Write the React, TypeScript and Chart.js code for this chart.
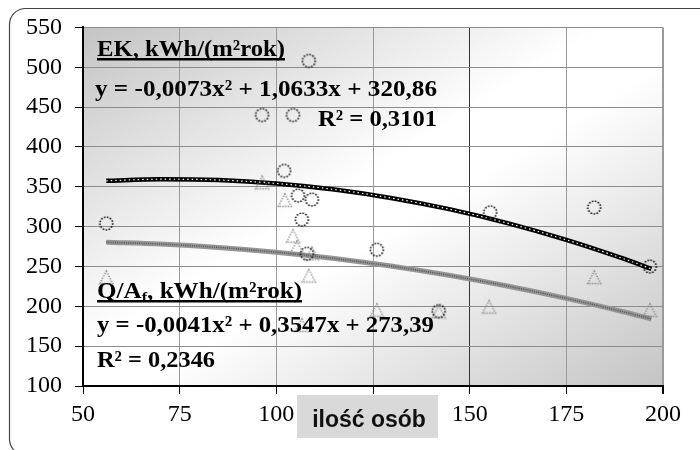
import React, { useEffect, useRef } from 'react';
import { Chart, registerables } from 'chart.js';
Chart.register(...registerables);

// ---- data ----
const ekX = [56, 96.3, 102, 104.3, 105.6, 106.6, 107.9, 108.4, 109.2, 126, 142, 155.3, 182.2, 196.6];
const ekY = [304, 440, 370, 440, 339, 309, 266, 508, 334, 271, 194, 318, 324, 250];
const qX = [56, 96.3, 102.2, 104.3, 105.3, 106.6, 108.4, 109.2, 126, 142, 155, 182.2, 196.6];
const qY = [236, 355, 333, 288, 274, 176, 238, 266, 195, 193, 199, 236, 195];
const trendX = [56, 70, 85, 100, 115, 130, 145, 160, 175, 190, 197];
const ekTrendY = [357.5, 359.5, 358.5, 354.2, 346.6, 335.7, 321.6, 304.1, 283.4, 259.4, 247.0];
const qTrendY = [280.4, 278.1, 273.9, 267.9, 260.0, 250.2, 238.6, 225.2, 209.9, 192.8, 184.1];
const xTicks = [50, 75, 100, 125, 150, 175, 200];
const yTicks = [100, 150, 200, 250, 300, 350, 400, 450, 500, 550];

const xTitle = 'ilość osób';
const ekTitleA = 'EK, kWh/(m²rok)';
const ekEquation = 'y = -0,0073x² + 1,0633x + 320,86';
const ekR2 = 'R² = 0,3101';
const qTitleA = 'Q/A';
const qTitleSub = 'f';
const qTitleB = ', kWh/(m²rok)';
const qEquation = 'y = -0,0041x² + 0,3547x + 273,39';
const qR2 = 'R² = 0,2346';

const SERIF = "'Liberation Serif', 'Times New Roman', serif";
const SANS = "'Liberation Sans', Arial, sans-serif";

type Seg = { t: string; font: string; dy?: number };

function drawRun(
  ctx: CanvasRenderingContext2D,
  segs: Seg[],
  left: number,
  baseline: number,
  width: number,
  underline?: { dy: number; h: number }
) {
  ctx.save();
  let total = 0;
  for (const s of segs) {
    ctx.font = s.font;
    total += ctx.measureText(s.t).width;
  }
  const sx = width / total;
  ctx.fillStyle = '#000';
  ctx.textAlign = 'left';
  ctx.textBaseline = 'alphabetic';
  ctx.translate(left, baseline);
  ctx.scale(sx, 1);
  let x = 0;
  for (const s of segs) {
    ctx.font = s.font;
    ctx.fillText(s.t, x, s.dy || 0);
    x += ctx.measureText(s.t).width;
  }
  ctx.restore();
  if (underline) {
    ctx.save();
    ctx.fillStyle = '#000';
    ctx.fillRect(left, baseline + underline.dy, width, underline.h);
    ctx.restore();
  }
}

function makeCircle(): HTMLCanvasElement {
  const c = document.createElement('canvas');
  c.width = 17;
  c.height = 17;
  const g = c.getContext('2d')!;
  g.strokeStyle = '#000';
  g.lineWidth = 1.5;
  g.setLineDash([1.5, 1.5]);
  g.beginPath();
  g.arc(8.5, 8.5, 6.4, 0, Math.PI * 2);
  g.stroke();
  return c;
}

function makeTriangle(): HTMLCanvasElement {
  const c = document.createElement('canvas');
  c.width = 17;
  c.height = 17;
  const g = c.getContext('2d')!;
  g.strokeStyle = '#7a7a7a';
  g.lineWidth = 1.3;
  g.setLineDash([1.3, 1.4]);
  g.beginPath();
  g.moveTo(8.5, 2);
  g.lineTo(15, 14.5);
  g.lineTo(2, 14.5);
  g.closePath();
  g.stroke();
  return c;
}

const bgPlugin = {
  id: 'bgPlugin',
  beforeDraw(chart: any) {
    const { ctx, chartArea } = chart;
    const { left, top, right, bottom } = chartArea;
    ctx.save();
    ctx.fillStyle = '#ffffff';
    ctx.fillRect(0, 0, chart.width, chart.height);
    ctx.translate(left, top);
    ctx.scale(right - left, bottom - top);
    const gr = ctx.createLinearGradient(0, 0, 1, 1);
    gr.addColorStop(0, '#c4c4c4');
    gr.addColorStop(0.45, '#ffffff');
    gr.addColorStop(0.55, '#ffffff');
    gr.addColorStop(1, '#c4c4c4');
    ctx.fillStyle = gr;
    ctx.fillRect(0, 0, 1, 1);
    ctx.restore();
  },
};

const textPlugin = {
  id: 'textPlugin',
  afterDraw(chart: any) {
    const ctx: CanvasRenderingContext2D = chart.ctx;
    const big = `bold 23px ${SERIF}`;
    const small = `bold 15px ${SERIF}`;
    drawRun(ctx, [{ t: ekTitleA, font: big }], 97, 56, 188, { dy: 2, h: 2.5 });
    drawRun(ctx, [{ t: ekEquation, font: big }], 95, 96, 342);
    drawRun(ctx, [{ t: ekR2, font: big }], 318, 126, 119);
    drawRun(
      ctx,
      [
        { t: qTitleA, font: big },
        { t: qTitleSub, font: small, dy: 4 },
        { t: qTitleB, font: big },
      ],
      97,
      298,
      205,
      { dy: 2, h: 2.5 }
    );
    drawRun(ctx, [{ t: qEquation, font: big }], 97, 332, 337);
    drawRun(ctx, [{ t: qR2, font: big }], 97, 367, 118);

    // x-axis title box
    ctx.save();
    ctx.fillStyle = '#d9d9d9';
    ctx.fillRect(297, 395, 141, 43);
    ctx.fillStyle = '#111';
    ctx.font = `bold 23px ${SANS}`;
    ctx.textAlign = 'center';
    ctx.textBaseline = 'alphabetic';
    ctx.fillText(xTitle, 369, 427);
    ctx.restore();

    // outer rounded border
    ctx.save();
    ctx.strokeStyle = '#444';
    ctx.lineWidth = 1.2;
    const x0 = 9.5, y0 = 8.5, x1 = 730, y1 = 455, r = 16;
    ctx.beginPath();
    ctx.moveTo(x1, y0);
    ctx.lineTo(x0 + r, y0);
    ctx.arcTo(x0, y0, x0, y0 + r, r);
    ctx.lineTo(x0, y1 - r);
    ctx.arcTo(x0, y1, x0 + r, y1, r);
    ctx.stroke();
    ctx.restore();
  },
};

export default function App() {
  const ref = useRef<HTMLCanvasElement | null>(null);
  useEffect(() => {
    if (!ref.current) return;
    const circle = makeCircle();
    const tri = makeTriangle();
    const chart = new Chart(ref.current, {
      type: 'scatter',
      data: {
        datasets: [
          {
            label: 'EK',
            data: ekX.map((x, i) => ({ x, y: ekY[i] })),
            pointStyle: circle as any,
            pointRadius: 7,
            showLine: false,
          },
          {
            label: 'Q',
            data: qX.map((x, i) => ({ x, y: qY[i] })),
            pointStyle: tri as any,
            pointRadius: 7,
            showLine: false,
          },
          {
            label: 'EK trend overlay',
            data: trendX.map((x, i) => ({ x, y: ekTrendY[i] })),
            showLine: true,
            borderColor: '#ffffff',
            borderWidth: 1.2,
            borderDash: [1.5, 3],
            pointRadius: 0,
            cubicInterpolationMode: 'monotone',
          },
          {
            label: 'EK trend',
            data: trendX.map((x, i) => ({ x, y: ekTrendY[i] })),
            showLine: true,
            borderColor: '#000000',
            borderWidth: 4.5,
            pointRadius: 0,
            cubicInterpolationMode: 'monotone',
          },
          {
            label: 'Q trend overlay',
            data: trendX.map((x, i) => ({ x, y: qTrendY[i] })),
            showLine: true,
            borderColor: '#555555',
            borderWidth: 1.5,
            borderDash: [1, 1.2],
            pointRadius: 0,
            cubicInterpolationMode: 'monotone',
          },
          {
            label: 'Q trend',
            data: trendX.map((x, i) => ({ x, y: qTrendY[i] })),
            showLine: true,
            borderColor: '#959595',
            borderWidth: 5,
            pointRadius: 0,
            cubicInterpolationMode: 'monotone',
          },
        ] as any,
      },
      options: {
        animation: false,
        responsive: false,
        events: [],
        layout: { padding: { left: 0, top: 26, right: 37, bottom: 0 } },
        plugins: { legend: { display: false }, tooltip: { enabled: false } },
        scales: {
          x: {
            type: 'linear',
            min: 50,
            max: 200,
            afterBuildTicks: (s: any) => {
              s.ticks = xTicks.map((v) => ({ value: v }));
            },
            afterFit: (s: any) => {
              s.height = 64;
            },
            grid: {
              color: (c: any) => (c.tick && c.tick.value === 150 ? '#333333' : '#9a9a9a'),
              lineWidth: (c: any) => (c.tick && c.tick.value === 200 ? 2 : 1),
              tickColor: '#000',
              tickLength: 8,
            },
            border: { color: '#000', width: 2 },
            ticks: {
              font: { family: SERIF, size: 24 },
              color: '#000',
              padding: 6,
              maxRotation: 0,
              autoSkip: false,
            },
          },
          y: {
            type: 'linear',
            min: 100,
            max: 550,
            afterBuildTicks: (s: any) => {
              s.ticks = yTicks.map((v) => ({ value: v }));
            },
            afterFit: (s: any) => {
              s.width = 83;
            },
            grid: {
              color: '#8c8c8c',
              tickColor: '#000',
              tickLength: 8,
            },
            border: { color: '#000', width: 2 },
            ticks: {
              font: { family: SERIF, size: 24 },
              color: '#000',
              padding: 13,
              autoSkip: false,
            },
          },
        },
      } as any,
      plugins: [bgPlugin, textPlugin],
    });
    return () => chart.destroy();
  }, []);
  return (
    <div style={{ position: 'absolute', left: 0, top: 0, width: 700, height: 450 }}>
      <canvas ref={ref} width={700} height={450} style={{ width: 700, height: 450, display: 'block' }} />
    </div>
  );
}
